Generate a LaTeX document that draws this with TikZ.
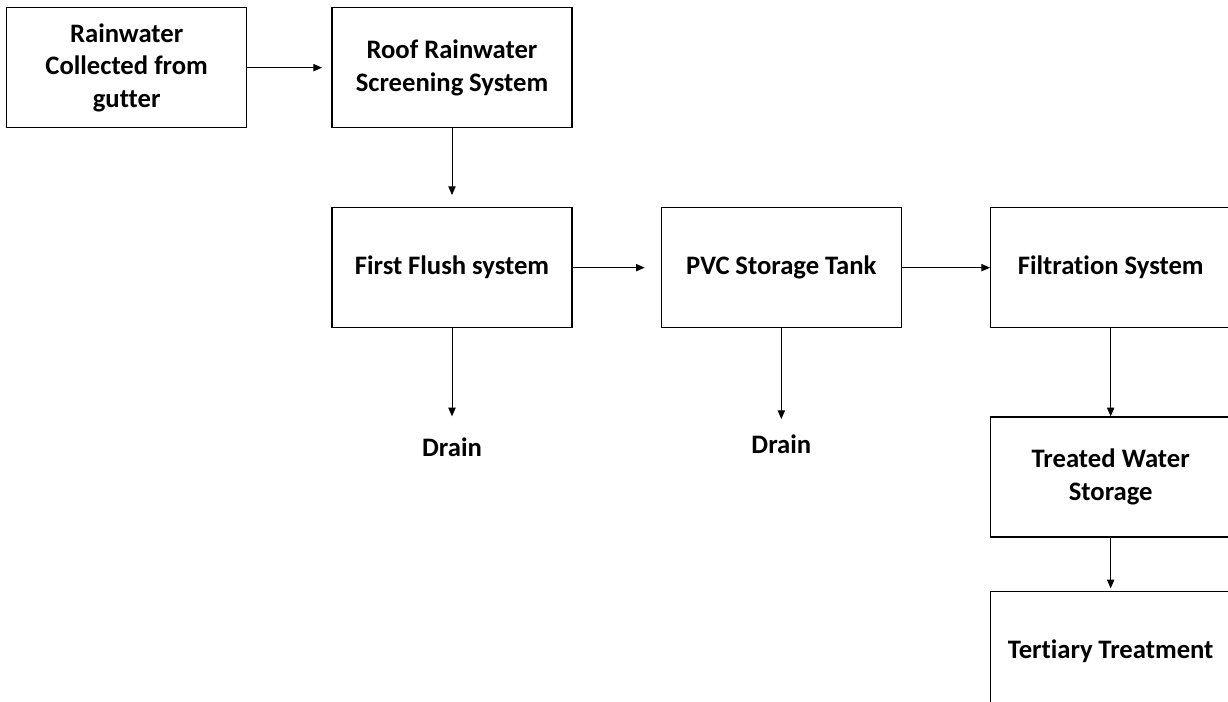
\documentclass[tikz,border=0pt]{standalone}
\usepackage{fontspec}
\setmainfont{Carlito}[Ligatures=NoCommon]
\usetikzlibrary{positioning, arrows.meta}

\newcommand{\boxfont}{\fontsize{20}{24.5}\selectfont\bfseries}

\tikzset{
	block/.style={draw, line width=1pt, minimum width=180pt, minimum height=90pt,
		text width=170pt, inner xsep=5pt, inner ysep=0pt, align=center, font=\boxfont,
		execute at begin node={\spaceskip=4pt plus 1pt minus 1pt\relax}},
	drain/.style={inner sep=0pt, font=\boxfont},
	flow/.style={-{Triangle[length=6.5pt,width=5.5pt]}, line width=0.7pt},
}

\begin{document}
\begin{tikzpicture}[x=0.75pt, y=-0.75pt]
	\useasboundingbox (0,0) rectangle (1228,702);
	\node[block, anchor=north west] (gutter) at (6,7) {Rainwater\\Collected from\\gutter};
	\node[block, right=63pt of gutter] (screen) {Roof Rainwater\\Screening System};
	\node[block, below=59pt of screen] (flush) {First Flush system};
	\node[block, right=66pt of flush] (tank) {PVC Storage Tank};
	\node[block, right=66pt of tank] (filter) {Filtration System};
	\node[block, below=66pt of filter] (treated) {Treated Water\\Storage};
	\node[block, below=40pt of treated] (tertiary) {Tertiary Treatment};
	\node[drain, below=82pt of flush] (drain1) {Drain};
	\node[drain, below=80pt of tank] (drain2) {Drain};
	
	\draw[flow, shorten >=7pt] (gutter) -- (screen);
	\draw[flow, shorten >=9pt] (screen) -- (flush);
	\draw[flow, shorten >=12pt] (flush) -- (tank);
	\draw[flow] (tank) -- (filter);
	\draw[flow] (filter) -- (treated);
	\draw[flow, shorten >=2pt] (treated) -- (tertiary);
	\draw[flow, shorten >=16pt] (flush) -- (drain1);
	\draw[flow, shorten >=12pt] (tank) -- (drain2);
\end{tikzpicture}
\end{document}
